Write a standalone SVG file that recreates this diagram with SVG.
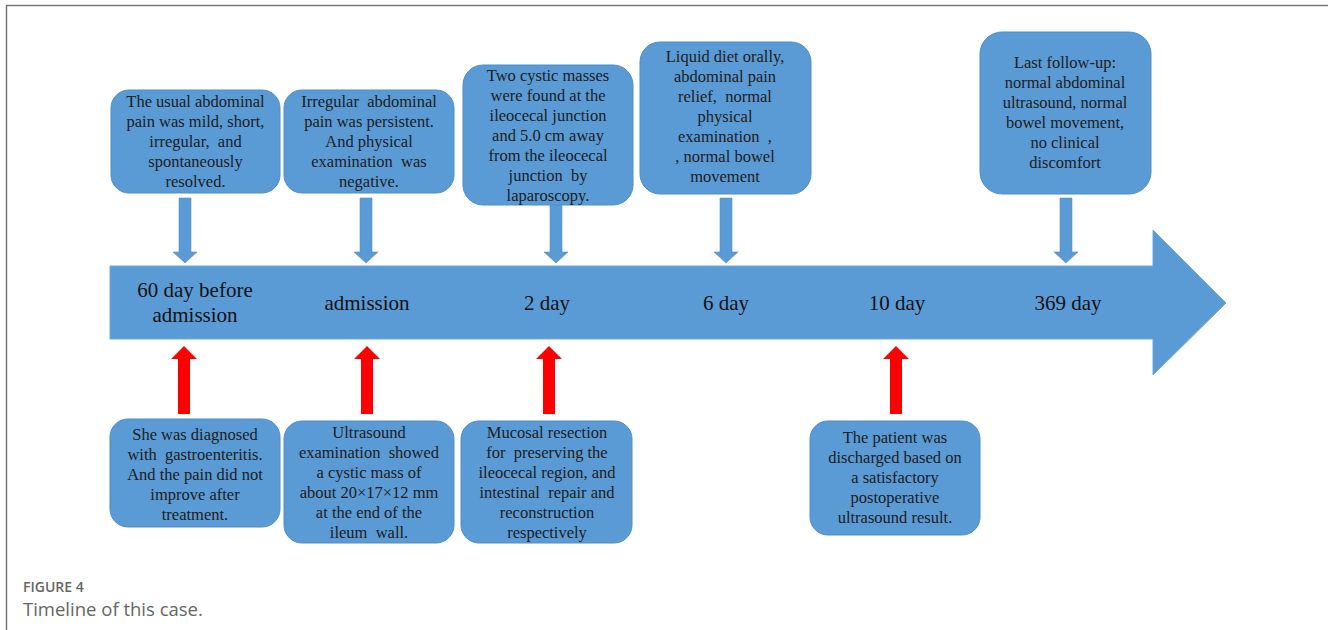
<svg xmlns="http://www.w3.org/2000/svg" width="1328" height="630" viewBox="0 0 1328 630">
<style>
.box{fill:#5B9BD5;stroke:#4E8DC8;stroke-width:1}
.t{font-family:"Liberation Serif","Times New Roman",serif;font-size:16.5px;fill:#1c1c1c;text-anchor:middle;white-space:pre}
.ax{font-family:"Liberation Serif","Times New Roman",serif;font-size:21px;fill:#111;text-anchor:middle}
.barrow{fill:#5B9BD5;stroke:#5592CC;stroke-width:0.6}
.rarrow{fill:#FF0000}
.cap1{font-family:"Open Sans","Liberation Sans",sans-serif;font-size:14px;font-weight:600;fill:#666}
.cap2{font-family:"Open Sans","Liberation Sans",sans-serif;font-size:18.5px;fill:#666}
</style>
<rect width="1328" height="630" fill="#fff"/>
<path d="M6.5 630 V5.5 H1328" fill="none" stroke="#777" stroke-width="1.5"/>

<g id="timeline">
<polygon points="110,266 1153,266 1153,230 1226,303 1153,375 1153,339 110,339" fill="#5B9BD5" stroke="#6FA8DC" stroke-width="1"/>
<text class="ax" x="195" y="297">60 day before</text>
<text class="ax" x="195" y="322">admission</text>
<text class="ax" x="367" y="310">admission</text>
<text class="ax" x="547" y="310">2 day</text>
<text class="ax" x="726" y="310">6 day</text>
<text class="ax" x="897" y="310">10 day</text>
<text class="ax" x="1068" y="310">369 day</text>
</g>

<g id="connectors">
<polygon class="barrow" points="179,198 191,198 191,252 197,252 185,263 173,252 179,252"/>
<polygon class="barrow" points="360,198 372,198 372,252 378,252 366,263 354,252 360,252"/>
<polygon class="barrow" points="550,205 562,205 562,252 568,252 556,263 544,252 550,252"/>
<polygon class="barrow" points="720,198 732,198 732,252 738,252 726,263 714,252 720,252"/>
<polygon class="barrow" points="1060,198 1072,198 1072,252 1078,252 1066,263 1054,252 1060,252"/>
<polygon class="rarrow" points="178,414 190,414 190,359 197,359 184,346 171,359 178,359"/>
<polygon class="rarrow" points="361,414 373,414 373,359 380,359 367,346 354,359 361,359"/>
<polygon class="rarrow" points="543,414 555,414 555,359 562,359 549,346 536,359 543,359"/>
<polygon class="rarrow" points="890,414 902,414 902,359 909,359 896,346 883,359 890,359"/>
</g>

<g id="top1">
<rect class="box" x="111" y="90" width="169" height="103" rx="18"/>
<text class="t" x="195.5" y="107">The usual abdominal</text>
<text class="t" x="195.5" y="127">pain was mild, short,</text>
<text class="t" x="195.5" y="147">irregular,  and</text>
<text class="t" x="195.5" y="167">spontaneously</text>
<text class="t" x="195.5" y="187">resolved.</text>
</g>
<g id="top2">
<rect class="box" x="284" y="90" width="170" height="103" rx="18"/>
<text class="t" x="369" y="107">Irregular  abdominal</text>
<text class="t" x="369" y="127">pain was persistent.</text>
<text class="t" x="369" y="147">And physical</text>
<text class="t" x="369" y="167">examination  was</text>
<text class="t" x="369" y="187">negative.</text>
</g>
<g id="top3">
<rect class="box" x="463" y="65" width="170" height="140" rx="20"/>
<text class="t" x="548" y="81">Two cystic masses</text>
<text class="t" x="548" y="101">were found at the</text>
<text class="t" x="548" y="121">ileocecal junction</text>
<text class="t" x="548" y="141">and 5.0 cm away</text>
<text class="t" x="548" y="161">from the ileocecal</text>
<text class="t" x="548" y="181">junction  by</text>
<text class="t" x="548" y="201">laparoscopy.</text>
</g>
<g id="top4">
<rect class="box" x="640" y="42" width="171" height="152" rx="20"/>
<text class="t" x="725" y="62">Liquid diet orally,</text>
<text class="t" x="725" y="82">abdominal pain</text>
<text class="t" x="725" y="102">relief,  normal</text>
<text class="t" x="725" y="122">physical</text>
<text class="t" x="725" y="142">examination  ,</text>
<text class="t" x="725" y="162">, normal bowel</text>
<text class="t" x="725" y="182">movement</text>
</g>
<g id="top5">
<rect class="box" x="980" y="32" width="171" height="162" rx="22"/>
<text class="t" x="1065" y="68">Last follow-up:</text>
<text class="t" x="1065" y="88">normal abdominal</text>
<text class="t" x="1065" y="108">ultrasound, normal</text>
<text class="t" x="1065" y="128">bowel movement,</text>
<text class="t" x="1065" y="148">no clinical</text>
<text class="t" x="1065" y="168">discomfort</text>
</g>

<g id="bottom1">
<rect class="box" x="110" y="419" width="170" height="108" rx="18"/>
<text class="t" x="195" y="440">She was diagnosed</text>
<text class="t" x="195" y="460">with  gastroenteritis.</text>
<text class="t" x="195" y="480">And the pain did not</text>
<text class="t" x="195" y="500">improve after</text>
<text class="t" x="195" y="520">treatment.</text>
</g>
<g id="bottom2">
<rect class="box" x="284" y="421" width="170" height="122" rx="18"/>
<text class="t" x="369" y="438">Ultrasound</text>
<text class="t" x="369" y="458">examination  showed</text>
<text class="t" x="369" y="478">a cystic mass of</text>
<text class="t" x="369" y="498">about 20×17×12 mm</text>
<text class="t" x="369" y="518">at the end of the</text>
<text class="t" x="369" y="538">ileum  wall.</text>
</g>
<g id="bottom3">
<rect class="box" x="461" y="421" width="171" height="122" rx="18"/>
<text class="t" x="547" y="438">Mucosal resection</text>
<text class="t" x="547" y="458">for  preserving the</text>
<text class="t" x="547" y="478">ileocecal region, and</text>
<text class="t" x="547" y="498">intestinal  repair and</text>
<text class="t" x="547" y="518">reconstruction</text>
<text class="t" x="547" y="538">respectively</text>
</g>
<g id="bottom4">
<rect class="box" x="810" y="421" width="170" height="114" rx="18"/>
<text class="t" x="895" y="443">The patient was</text>
<text class="t" x="895" y="463">discharged based on</text>
<text class="t" x="895" y="483">a satisfactory</text>
<text class="t" x="895" y="503">postoperative</text>
<text class="t" x="895" y="523">ultrasound result.</text>
</g>

<g id="caption">
<text class="cap1" x="23" y="592">FIGURE 4</text>
<text class="cap2" x="23" y="616">Timeline of this case.</text>
</g>
</svg>
